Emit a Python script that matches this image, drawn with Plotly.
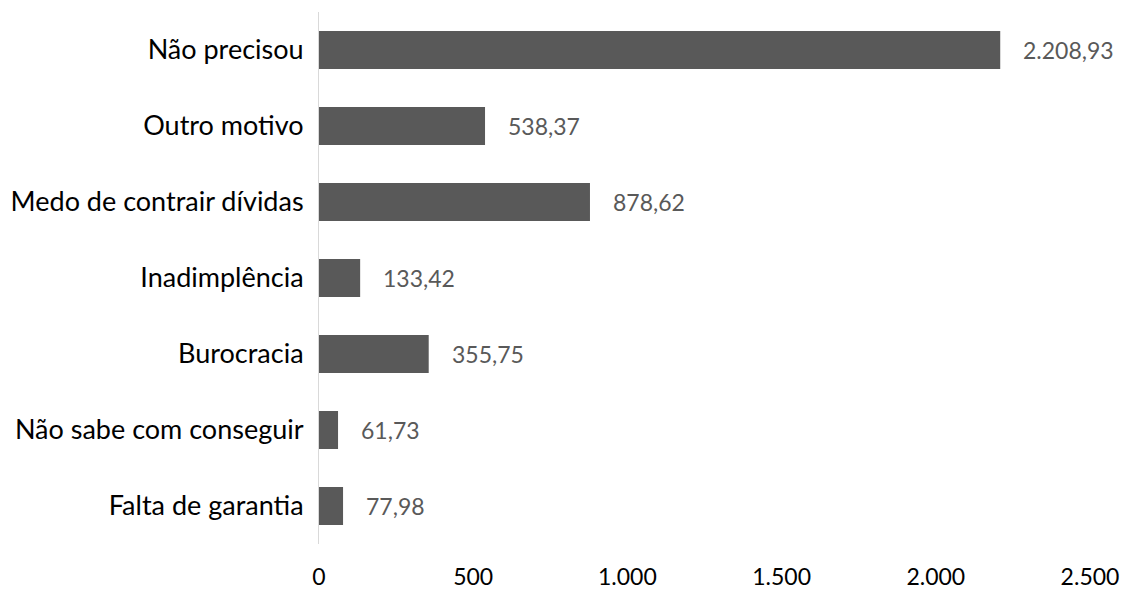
import plotly.graph_objects as go

# Motivos para não buscar crédito
categorias = [
    "Falta de garantia",
    "Não sabe com conseguir",
    "Burocracia",
    "Inadimplência",
    "Medo de contrair dívidas",
    "Outro motivo",
    "Não precisou",
]
valores = [77.98, 61.73, 355.75, 133.42, 878.62, 538.37, 2208.93]
ticks_x = [0, 500, 1000, 1500, 2000, 2500]


def br(v):
    s = f"{v:,.2f}"
    return s.replace(",", "X").replace(".", ",").replace("X", ".")


FONTE = "Lato, Carlito, Calibri, sans-serif"
COR_BARRA = "#595959"

fig = go.Figure(
    go.Bar(
        x=valores,
        y=categorias,
        orientation="h",
        marker=dict(color=COR_BARRA, line=dict(width=0)),
        hoverinfo="skip",
    )
)

for c, v in zip(categorias, valores):
    fig.add_annotation(
        x=v, y=c, text=br(v), showarrow=False, xanchor="left", xshift=21,
        font=dict(family=FONTE, size=23, color="#595959"),
    )

fig.update_layout(
    width=1127,
    height=592,
    margin=dict(l=319, r=37, t=12, b=48),
    paper_bgcolor="white",
    plot_bgcolor="white",
    bargap=0.5,
    separators=",.",
    showlegend=False,
    font=dict(family=FONTE, size=20, color="#000000"),
)
fig.update_xaxes(
    range=[0, 2500], tickvals=ticks_x, tickformat=",d", automargin=False,
    showgrid=False, zeroline=False, showline=False, ticks="",
    tickfont=dict(family=FONTE, size=23, color="#000000"), ticklabelstandoff=17,
)
fig.update_yaxes(
    showgrid=False, zeroline=False, showline=True, linecolor="#d9d9d9", linewidth=1,
    ticks="", ticklabelstandoff=9, automargin=False,
    tickfont=dict(family=FONTE, size=27, color="#000000"),
)

fig.write_html("out.html")
